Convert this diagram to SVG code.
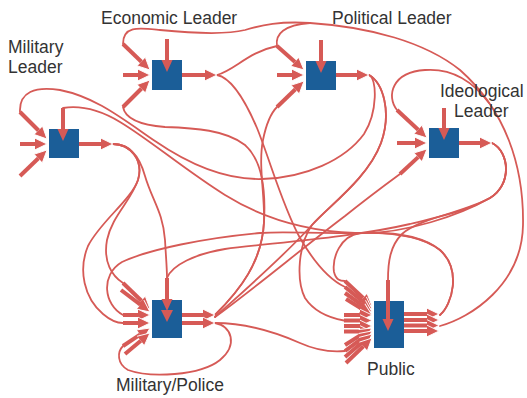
<svg xmlns="http://www.w3.org/2000/svg" width="527" height="398" viewBox="0 0 527 398">
<style>
.c{fill:none;stroke:#d65a56;stroke-width:1.8;stroke-linecap:round}
.p{fill:none;stroke:#d65a56;stroke-width:4;marker-end:url(#ah)}
.t{fill:none;stroke:#d65a56;stroke-width:4;marker-end:url(#ahn)}
.box{fill:#1b5e98}
.lbl{font-family:"Liberation Sans",Arial,sans-serif;font-size:17.5px;fill:#333}
</style>
<defs>
<marker id="ah" markerUnits="userSpaceOnUse" viewBox="-1 -7 14 14" markerWidth="14" markerHeight="14" refX="0" refY="0" orient="auto" overflow="visible">
<path d="M0,-5.8 L12,0 L0,5.8" fill="#d65a56" stroke="#fff" stroke-width="0.9"/>
</marker>
<marker id="ahn" markerUnits="userSpaceOnUse" viewBox="-1 -7 14 14" markerWidth="14" markerHeight="14" refX="0" refY="0" orient="auto" overflow="visible">
<path d="M0,-5.5 L12,0 L0,5.5z" fill="#d65a56"/>
</marker>
</defs>
<rect width="527" height="398" fill="#fff"/>

<g id="connectors">
<path class="c" d="M440,326 C470,318 522,285 523,225 C524,165 505,110 460,70 C425,42 370,27 310,23 C280,21 262,25 245,30 C225,35 190,33 160,30 C140,28 123,25 123,44"/>
<path class="c" d="M217,75 C235,70 248,52 277,46"/>
<path class="c" d="M277,46 C275,34 284,25 310,23"/>
<path class="c" d="M397,110 C386,96 392,72 425,70 C452,68 472,80 489,103"/>
<path class="c" d="M492,143 C510,152 512,185 490,198 C465,212 420,218 402,234 C390,246 388,262 388,280"/>
<path class="c" d="M492,143 C510,152 512,185 490,198 C462,214 405,235 355,233 C305,231 262,218 225,195 C185,170 150,140 120,122 C100,110 82,105 63,108"/>
<path class="c" d="M492,143 C510,152 512,185 490,198 C465,212 445,215 410,224 C350,238 270,243 225,249 C195,254 172,265 167,278"/>
<path class="c" d="M369,75 C377,78 378,112 364,134 C345,160 305,178 262,179 C225,180 190,165 155,141 C120,117 95,97 60,90 C35,86 19,92 20,112"/>
<path class="c" d="M369,75 C383,83 392,112 381,143 C368,178 330,205 312,225 C298,245 296,280 305,298 C315,313 330,318 344,320.5"/>
<path class="c" d="M369,75 C383,83 392,112 381,143 C368,178 330,205 312,225 C285,255 245,290 215,317"/>
<path class="c" d="M217,75 C232,78 245,100 257,128 C270,160 282,205 300,238 C314,262 330,280 345,287"/>
<path class="c" d="M215,315 C240,290 262,262 264,222 C266,188 262,160 245,145 C226,130 195,128 165,127 C140,125 125,118 123,107"/>
<path class="c" d="M215,315 C240,290 262,262 264,222 C265,195 258,165 263,140 C266,125 271,113 277,107"/>
<path class="c" d="M215,317 C255,288 300,250 345,216 C365,200 385,185 400,174"/>
<path class="c" d="M440,315 C452,305 462,270 440,250 C420,234 385,232 355,233 C310,234 290,231 260,233 C205,238 150,249 122,262 C100,275 104,305 123,315"/>
<path class="c" d="M440,315 C452,305 462,270 440,250 C420,234 385,232 360,233 C340,236 332,258 334,272 C336,280 340,281 345,281"/>
<path class="c" d="M215,323 C245,323 275,332 300,343 C320,352 335,352 345,351"/>
<path class="c" d="M113,144 C130,144 140,158 145,176 C152,200 163,212 165,240 C166,258 167,268 167,278"/>
<path class="c" d="M113,144 C130,144 144,160 138,180 C131,201 112,216 107,240 C103,262 112,276 123,283"/>
<path class="c" d="M113,144 C130,144 144,160 138,180 C131,200 100,222 88,246 C78,270 84,298 103,314 C110,320 116,323 123,323"/>
<path class="c" d="M215,323 C232,326 238,345 220,360 C200,376 150,378 128,370 C117,364 117,352 123,346"/>
</g>

<g id="military-leader">
<rect class="box" x="49" y="129" width="30" height="29"/>
<path class="t" d="M63,108 V129"/>
<path class="p" d="M20,112 L38.5,130.5"/>
<path class="p" d="M20,144 H35"/>
<path class="p" d="M20,176 L38.4,158.3"/>
<path class="p" d="M79,144 H101"/>
<text class="lbl" x="8" y="53">Military</text>
<text class="lbl" x="8" y="73">Leader</text>
</g>

<g id="economic-leader">
<rect class="box" x="152" y="60" width="30" height="30"/>
<path class="t" d="M167,39 V60"/>
<path class="p" d="M123,44 L141.4,61.7"/>
<path class="p" d="M123,75 H138"/>
<path class="p" d="M123,107 L141.5,88.5"/>
<path class="p" d="M182,75 H205"/>
<text class="lbl" x="101" y="24">Economic Leader</text>
</g>

<g id="political-leader">
<rect class="box" x="306" y="61" width="30" height="29"/>
<path class="t" d="M321,40 V61"/>
<path class="p" d="M277,46 L295,62"/>
<path class="p" d="M277,75 H292"/>
<path class="p" d="M277,107 L295.4,89.3"/>
<path class="p" d="M336,75 H357"/>
<text class="lbl" x="332" y="24">Political Leader</text>
</g>

<g id="ideological-leader">
<rect class="box" x="429" y="128" width="30" height="30"/>
<path class="t" d="M444,108 V128"/>
<path class="p" d="M397,110 L418.2,129.8"/>
<path class="p" d="M397,143 H415"/>
<path class="p" d="M400,174 L418.2,157.1"/>
<path class="p" d="M459,143 H480"/>
<text class="lbl" x="440" y="97">Ideological</text>
<text class="lbl" x="454" y="117">Leader</text>
</g>

<g id="military-police">
<rect class="box" x="152" y="300" width="30" height="38"/>
<path class="t" d="M167,278 V299"/>
<path d="M161,310 L173,310 L167,322z" fill="#d65a56"/>
<path class="p" d="M123,283 L141.4,300.7"/>
<path class="p" d="M121,290 L140.4,304.7"/>
<path class="p" d="M123,315 H138"/>
<path class="p" d="M123,323 H138"/>
<path class="p" d="M123,346 L140,334.7"/>
<path class="p" d="M125,354 L140.8,340.7"/>
<path class="p" d="M182,315 H203"/>
<path class="p" d="M182,323 H203"/>
<text class="lbl" x="116" y="391">Military/Police</text>
</g>

<g id="public">
<rect class="box" x="374" y="301" width="30" height="47"/>
<path class="t" d="M388,280 V319"/>
<path class="p" d="M345,281 L363.2,297.9"/>
<path class="p" d="M345,287 L362.7,301.4"/>
<path class="p" d="M345,293 L362.2,305.1"/>
<path class="p" d="M346,299 L361.8,308.7"/>
<path class="p" d="M344,315 H360"/>
<path class="p" d="M344,320.5 H360"/>
<path class="p" d="M344,326 H360"/>
<path class="p" d="M344,331.5 H360"/>
<path class="p" d="M345,345 L361.8,334.4"/>
<path class="p" d="M345,351 L362.4,338.1"/>
<path class="p" d="M345,357 L362.9,341.8"/>
<path class="p" d="M346,363 L363.4,346.3"/>
<path class="p" d="M404,314 H427"/>
<path class="p" d="M404,320 H427"/>
<path class="p" d="M404,325.5 H427"/>
<path class="p" d="M404,331 H427"/>
<text class="lbl" x="367" y="375">Public</text>
</g>
</svg>
